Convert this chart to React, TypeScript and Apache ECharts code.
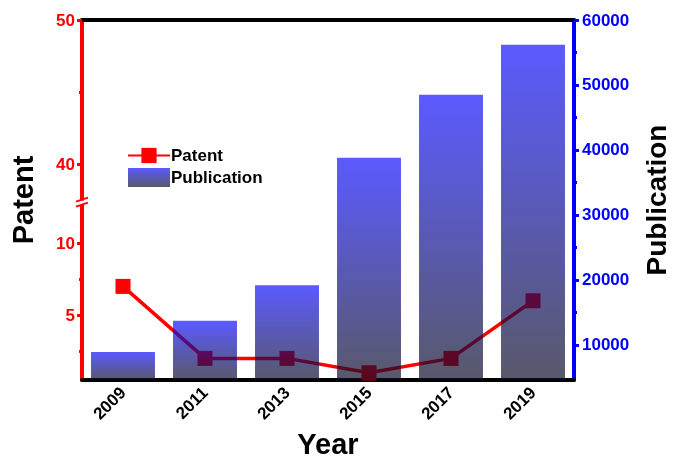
import React, { useEffect, useRef } from "react";
import * as echarts from "echarts";

const years = ["2009", "2011", "2013", "2015", "2017", "2019"];
const publications = [8900, 13700, 19200, 38800, 48500, 56200];
const patents = [7, 2, 2, 1, 2, 6];
const patentTicks = [5, 10, 40, 50];
const patentMinorTicks = [2.5, 7.5, 45];
const pubTicks = [10000, 20000, 30000, 40000, 50000, 60000];
const pubMinorTicks = [15000, 25000, 35000, 45000, 55000];
const patentBreak = { start: 12.75, end: 37.25 };

const FONT = "'Liberation Sans', Arial, sans-serif";
const GRID = { left: 82, right: 99, top: 20, bottom: 82 };

export default function App() {
  const ref = useRef<HTMLDivElement>(null);
  useEffect(() => {
    document.body.style.margin = "0";
    const chart = echarts.init(ref.current!, null, { renderer: "svg" });
    const barColor = new echarts.graphic.LinearGradient(0, 0, 0, 1, [
      { offset: 0, color: "rgba(15,15,255,0.686)" },
      { offset: 1, color: "rgba(12,12,38,0.686)" },
    ]);
    const leftAxisBase = {
      type: "value",
      position: "left",
      min: 0.5,
      max: 50,
      breaks: [{ start: patentBreak.start, end: patentBreak.end, gap: 0 }],
      breakArea: { show: false },
      splitLine: { show: false },
    };
    const rightAxisBase = {
      type: "value",
      position: "right",
      min: 4600,
      max: 60000,
      splitLine: { show: false },
    };
    chart.setOption({
      animation: false,
      grid: { ...GRID, outerBoundsMode: "none" },
      legend: {
        orient: "vertical",
        left: 122,
        top: 142,
        itemGap: 4,
        itemWidth: 42,
        itemHeight: 19,
        data: [{ name: "Patent" }, { name: "Publication", icon: "rect" }],
        textStyle: { fontFamily: FONT, fontWeight: "bold", fontSize: 17, color: "#000", padding: [0, 0, 0, -4] },
      },
      xAxis: [
        {
          type: "category",
          data: years,
          position: "bottom",
          axisLine: { lineStyle: { color: "#000", width: 4 } },
          axisTick: { alignWithLabel: true, length: 7, lineStyle: { color: "#000", width: 3 } },
          axisLabel: {
            rotate: 45,
            margin: 10,
            fontFamily: FONT,
            fontWeight: "bold",
            fontSize: 17,
            color: "#000",
          },
          name: "Year",
          nameLocation: "middle",
          nameGap: 48,
          nameTextStyle: { fontFamily: FONT, fontWeight: "bold", fontSize: 29, color: "#000" },
        },
        {
          type: "category",
          data: years,
          position: "bottom",
          axisLine: { show: false },
          axisTick: { alignWithLabel: false, length: 3, lineStyle: { color: "#000", width: 3 } },
          axisLabel: { show: false },
        },
        {
          type: "category",
          data: years,
          position: "top",
          axisLine: { lineStyle: { color: "#000", width: 4 } },
          axisTick: { alignWithLabel: true, inside: true, length: 5, lineStyle: { color: "#000", width: 3 } },
          axisLabel: { show: false },
        },
      ],
      yAxis: [
        {
          ...leftAxisBase,
          axisLine: { show: true, lineStyle: { color: "#ff0000", width: 4 } },
          axisTick: { show: true, length: 5, customValues: patentTicks, lineStyle: { color: "#ff0000", width: 3 } },
          axisLabel: {
            customValues: patentTicks,
            margin: 7,
            fontFamily: FONT,
            fontWeight: "bold",
            fontSize: 17,
            color: "#ff0000",
          },
          name: "Patent",
          nameLocation: "middle",
          nameGap: 45,
          nameTextStyle: { fontFamily: FONT, fontWeight: "bold", fontSize: 29, color: "#000" },
        },
        {
          ...rightAxisBase,
          axisLine: { show: true, lineStyle: { color: "#0000ff", width: 4 } },
          axisTick: { show: true, length: 5, customValues: pubTicks, lineStyle: { color: "#0000ff", width: 3 } },
          axisLabel: {
            customValues: pubTicks,
            formatter: (v: number) => String(v),
            margin: 8,
            fontFamily: FONT,
            fontWeight: "bold",
            fontSize: 17,
            color: "#0000ff",
          },
          name: "Publication",
          nameLocation: "middle",
          nameGap: 68,
          nameRotate: 90,
          nameTextStyle: { fontFamily: FONT, fontWeight: "bold", fontSize: 28, color: "#000" },
        },
        {
          ...leftAxisBase,
          axisLine: { show: false },
          axisTick: { show: true, length: 3, customValues: patentMinorTicks, lineStyle: { color: "#ff0000", width: 3 } },
          axisLabel: { show: false },
        },
        {
          ...rightAxisBase,
          axisLine: { show: false },
          axisTick: { show: true, length: 3, customValues: pubMinorTicks, lineStyle: { color: "#0000ff", width: 3 } },
          axisLabel: { show: false },
        },
      ],
      series: [
        {
          name: "Patent",
          type: "line",
          yAxisIndex: 0,
          data: patents,
          z: 1,
          symbol: "rect",
          symbolSize: 15,
          lineStyle: { color: "#ff0000", width: 3.5 },
          itemStyle: { color: "#ff0000" },
        },
        {
          name: "Publication",
          type: "bar",
          yAxisIndex: 1,
          data: publications,
          z: 3,
          barWidth: "78%",
          itemStyle: { color: barColor },
        },
      ],
    });

    const y = chart.convertToPixel({ yAxisIndex: 0 }, patentBreak.start) as number;
    const x = GRID.left;
    chart.setOption({
      graphic: [
        { type: "rect", shape: { x: x - 3, y: y - 3, width: 6, height: 4 }, style: { fill: "#fff" }, z: 100 },
        { type: "line", shape: { x1: x - 6, y1: y - 2, x2: x + 6, y2: y - 6 }, style: { stroke: "#ff0000", lineWidth: 2 }, z: 101 },
        { type: "line", shape: { x1: x - 6, y1: y + 3, x2: x + 6, y2: y - 1 }, style: { stroke: "#ff0000", lineWidth: 2 }, z: 101 },
      ],
    });
    return () => chart.dispose();
  }, []);
  return <div ref={ref} style={{ position: "fixed", left: 0, top: 0, width: 673, height: 462 }} />;
}
